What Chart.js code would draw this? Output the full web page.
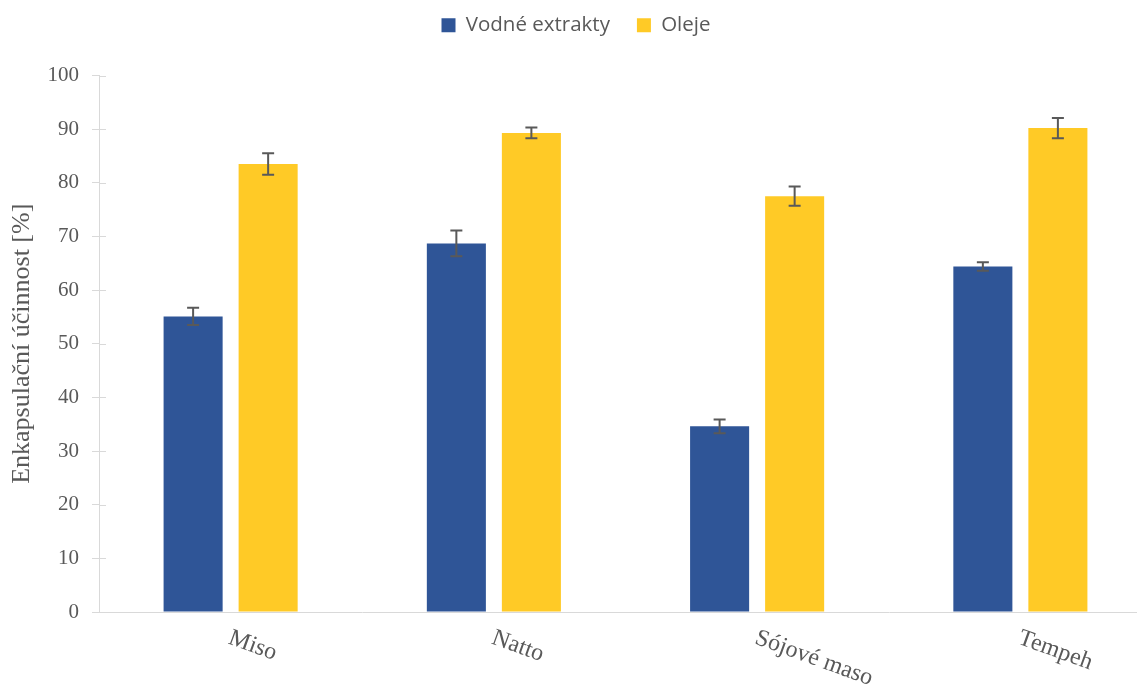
<!DOCTYPE html>
<html>
<head>
<meta charset="utf-8">
<script src="https://cdn.jsdelivr.net/npm/chart.js@4/dist/chart.umd.min.js"></script>
<style>
  html, body { margin: 0; padding: 0; background: #fff; overflow: hidden; }
  #wrap { position: absolute; left: 0; top: 0; width: 1152px; height: 688px; }
</style>
</head>
<body>
<div id="wrap"><canvas id="chart"></canvas></div>
<script>
const categories = ["Miso", "Natto", "Sójové maso", "Tempeh"];
const waterExtracts = [55.1, 68.7, 34.6, 64.4];
const waterErrors = [1.6, 2.4, 1.3, 0.8];
const oils = [83.5, 89.3, 77.5, 90.2];
const oilErrors = [2.0, 1.0, 1.8, 1.9];
const yTicks = [0, 10, 20, 30, 40, 50, 60, 70, 80, 90, 100];

const textGrey = "#595959";
const axisGrey = "#d9d9d9";
const serif = "'Liberation Serif', 'Times New Roman', serif";

// error bars drawn on top of each bar
const errorBars = {
  id: "errorBars",
  afterDatasetsDraw(chart) {
    const ctx = chart.ctx;
    const y = chart.scales.y;
    const errs = [waterErrors, oilErrors];
    ctx.save();
    ctx.strokeStyle = textGrey;
    ctx.lineWidth = 2;
    chart.data.datasets.forEach((ds, di) => {
      chart.getDatasetMeta(di).data.forEach((bar, i) => {
        const top = y.getPixelForValue(ds.data[i] + errs[di][i]);
        const bot = y.getPixelForValue(ds.data[i] - errs[di][i]);
        ctx.beginPath();
        ctx.moveTo(bar.x, top); ctx.lineTo(bar.x, bot);
        ctx.moveTo(bar.x - 6, top); ctx.lineTo(bar.x + 6, top);
        ctx.moveTo(bar.x - 6, bot); ctx.lineTo(bar.x + 6, bot);
        ctx.stroke();
      });
    });
    ctx.restore();
  }
};

// inner half of the y tick marks + slanted category labels
const axisExtras = {
  id: "axisExtras",
  afterDraw(chart) {
    const ctx = chart.ctx;
    const x = chart.scales.x, y = chart.scales.y;
    ctx.save();
    ctx.strokeStyle = axisGrey;
    ctx.lineWidth = 1;
    yTicks.forEach(v => {
      const py = Math.round(y.getPixelForValue(v)) + 0.5;
      ctx.beginPath();
      ctx.moveTo(x.left, py); ctx.lineTo(x.left + 7, py);
      ctx.stroke();
    });
    ctx.fillStyle = textGrey;
    ctx.font = "24px " + serif;
    ctx.textAlign = "left";
    ctx.textBaseline = "top";
    categories.forEach((c, i) => {
      ctx.save();
      ctx.translate(x.getPixelForValue(i) + 3, y.bottom + 14);
      ctx.rotate(20 * Math.PI / 180);
      ctx.fillText(c, 0, 0);
      ctx.restore();
    });
    ctx.restore();
  }
};

new Chart(document.getElementById("chart"), {
  type: "bar",
  data: {
    labels: categories,
    datasets: [
      { label: "Vodné extrakty", data: waterExtracts, backgroundColor: "#2f5597" },
      { label: "Oleje", data: oils, backgroundColor: "#ffca26" }
    ]
  },
  options: {
    responsive: true,
    maintainAspectRatio: false,
    animation: false,
    categoryPercentage: 0.57,
    barPercentage: 0.787,
    layout: { padding: { top: -12, right: 0, bottom: 0, left: 0 } },
    plugins: {
      tooltip: { enabled: false },
      legend: {
        position: "top",
        weight: 1600,
        labels: {
          boxWidth: 14,
          boxHeight: 14,
          padding: 27,
          color: textGrey,
          font: { family: "'Open Sans', sans-serif", size: 20.5 }
        }
      },
      // empty spacer between legend and plot
      subtitle: {
        display: true,
        text: "",
        font: { size: 10 },
        padding: { top: 18, bottom: 0 }
      }
    },
    scales: {
      x: {
        grid: { display: false },
        border: { color: axisGrey, width: 1 },
        ticks: { display: false },
        afterFit: s => { s.height = 688 - 612; }
      },
      y: {
        min: 0,
        max: 100,
        afterBuildTicks: s => { s.ticks = yTicks.map(v => ({ value: v })); },
        grid: { display: true, drawOnChartArea: false, drawTicks: true, tickLength: 7, color: axisGrey },
        border: { color: axisGrey, width: 1 },
        ticks: { color: textGrey, padding: 13, font: { family: serif, size: 21 } },
        title: {
          display: true,
          text: "Enkapsulační účinnost [%]",
          color: textGrey,
          font: { family: serif, size: 26 },
          padding: { top: 7, bottom: 0 }
        },
        afterFit: s => { s.width = 99; }
      }
    }
  },
  plugins: [errorBars, axisExtras]
});
</script>
</body>
</html>
